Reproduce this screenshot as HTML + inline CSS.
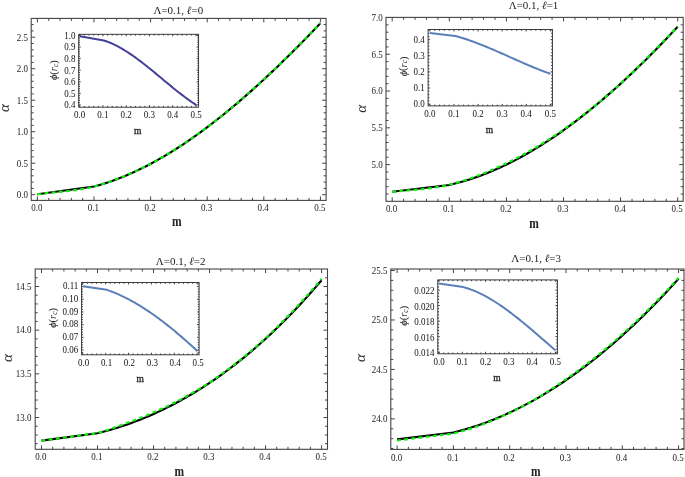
<!DOCTYPE html><html><head><meta charset="utf-8"><style>html,body{margin:0;padding:0;background:#fff;overflow:hidden}svg{display:block;will-change:transform}</style></head><body><svg width="685" height="477" viewBox="0 0 685 477">
<rect width="685" height="477" fill="#fff"/>
<path d="M37.40,200.40v-4M37.40,18.40v4M48.72,200.40v-2.5M48.72,18.40v2.5M60.04,200.40v-2.5M60.04,18.40v2.5M71.36,200.40v-2.5M71.36,18.40v2.5M82.68,200.40v-2.5M82.68,18.40v2.5M94.00,200.40v-4M94.00,18.40v4M105.32,200.40v-2.5M105.32,18.40v2.5M116.64,200.40v-2.5M116.64,18.40v2.5M127.96,200.40v-2.5M127.96,18.40v2.5M139.28,200.40v-2.5M139.28,18.40v2.5M150.60,200.40v-4M150.60,18.40v4M161.92,200.40v-2.5M161.92,18.40v2.5M173.24,200.40v-2.5M173.24,18.40v2.5M184.56,200.40v-2.5M184.56,18.40v2.5M195.88,200.40v-2.5M195.88,18.40v2.5M207.20,200.40v-4M207.20,18.40v4M218.52,200.40v-2.5M218.52,18.40v2.5M229.84,200.40v-2.5M229.84,18.40v2.5M241.16,200.40v-2.5M241.16,18.40v2.5M252.48,200.40v-2.5M252.48,18.40v2.5M263.80,200.40v-4M263.80,18.40v4M275.12,200.40v-2.5M275.12,18.40v2.5M286.44,200.40v-2.5M286.44,18.40v2.5M297.76,200.40v-2.5M297.76,18.40v2.5M309.08,200.40v-2.5M309.08,18.40v2.5M320.40,200.40v-4M320.40,18.40v4M31.20,194.70h4M326.10,194.70h-4M31.20,188.40h2.5M326.10,188.40h-2.5M31.20,182.10h2.5M326.10,182.10h-2.5M31.20,175.80h2.5M326.10,175.80h-2.5M31.20,169.50h2.5M326.10,169.50h-2.5M31.20,163.20h4M326.10,163.20h-4M31.20,156.90h2.5M326.10,156.90h-2.5M31.20,150.60h2.5M326.10,150.60h-2.5M31.20,144.30h2.5M326.10,144.30h-2.5M31.20,138.00h2.5M326.10,138.00h-2.5M31.20,131.70h4M326.10,131.70h-4M31.20,125.40h2.5M326.10,125.40h-2.5M31.20,119.10h2.5M326.10,119.10h-2.5M31.20,112.80h2.5M326.10,112.80h-2.5M31.20,106.50h2.5M326.10,106.50h-2.5M31.20,100.20h4M326.10,100.20h-4M31.20,93.90h2.5M326.10,93.90h-2.5M31.20,87.60h2.5M326.10,87.60h-2.5M31.20,81.30h2.5M326.10,81.30h-2.5M31.20,75.00h2.5M326.10,75.00h-2.5M31.20,68.70h4M326.10,68.70h-4M31.20,62.40h2.5M326.10,62.40h-2.5M31.20,56.10h2.5M326.10,56.10h-2.5M31.20,49.80h2.5M326.10,49.80h-2.5M31.20,43.50h2.5M326.10,43.50h-2.5M31.20,37.20h4M326.10,37.20h-4M31.20,30.90h2.5M326.10,30.90h-2.5M31.20,24.60h2.5M326.10,24.60h-2.5" stroke="#444" stroke-width="1" fill="none"/>
<rect x="31.2" y="18.4" width="294.90" height="182.00" fill="none" stroke="#444" stroke-width="1.1"/>
<g font-family="Liberation Serif" font-size="9" fill="#1a1a1a"><text transform="translate(36.80,211) scale(1,1.15)" text-anchor="middle">0.0</text><text transform="translate(93.40,211) scale(1,1.15)" text-anchor="middle">0.1</text><text transform="translate(150.00,211) scale(1,1.15)" text-anchor="middle">0.2</text><text transform="translate(206.60,211) scale(1,1.15)" text-anchor="middle">0.3</text><text transform="translate(263.20,211) scale(1,1.15)" text-anchor="middle">0.4</text><text transform="translate(319.80,211) scale(1,1.15)" text-anchor="middle">0.5</text><text transform="translate(28.00,198.00) scale(1,1.15)" text-anchor="end">0.0</text><text transform="translate(28.00,166.50) scale(1,1.15)" text-anchor="end">0.5</text><text transform="translate(28.00,135.00) scale(1,1.15)" text-anchor="end">1.0</text><text transform="translate(28.00,103.50) scale(1,1.15)" text-anchor="end">1.5</text><text transform="translate(28.00,72.00) scale(1,1.15)" text-anchor="end">2.0</text><text transform="translate(28.00,40.50) scale(1,1.15)" text-anchor="end">2.5</text></g>
<path d="M392.20,201.30v-4M392.20,17.40v4M403.62,201.30v-2.5M403.62,17.40v2.5M415.04,201.30v-2.5M415.04,17.40v2.5M426.46,201.30v-2.5M426.46,17.40v2.5M437.88,201.30v-2.5M437.88,17.40v2.5M449.30,201.30v-4M449.30,17.40v4M460.72,201.30v-2.5M460.72,17.40v2.5M472.14,201.30v-2.5M472.14,17.40v2.5M483.56,201.30v-2.5M483.56,17.40v2.5M494.98,201.30v-2.5M494.98,17.40v2.5M506.40,201.30v-4M506.40,17.40v4M517.82,201.30v-2.5M517.82,17.40v2.5M529.24,201.30v-2.5M529.24,17.40v2.5M540.66,201.30v-2.5M540.66,17.40v2.5M552.08,201.30v-2.5M552.08,17.40v2.5M563.50,201.30v-4M563.50,17.40v4M574.92,201.30v-2.5M574.92,17.40v2.5M586.34,201.30v-2.5M586.34,17.40v2.5M597.76,201.30v-2.5M597.76,17.40v2.5M609.18,201.30v-2.5M609.18,17.40v2.5M620.60,201.30v-4M620.60,17.40v4M632.02,201.30v-2.5M632.02,17.40v2.5M643.44,201.30v-2.5M643.44,17.40v2.5M654.86,201.30v-2.5M654.86,17.40v2.5M666.28,201.30v-2.5M666.28,17.40v2.5M677.70,201.30v-4M677.70,17.40v4M386.00,194.02h2.5M683.20,194.02h-2.5M386.00,186.66h2.5M683.20,186.66h-2.5M386.00,179.31h2.5M683.20,179.31h-2.5M386.00,171.95h2.5M683.20,171.95h-2.5M386.00,164.60h4M683.20,164.60h-4M386.00,157.25h2.5M683.20,157.25h-2.5M386.00,149.89h2.5M683.20,149.89h-2.5M386.00,142.54h2.5M683.20,142.54h-2.5M386.00,135.18h2.5M683.20,135.18h-2.5M386.00,127.82h4M683.20,127.82h-4M386.00,120.47h2.5M683.20,120.47h-2.5M386.00,113.11h2.5M683.20,113.11h-2.5M386.00,105.76h2.5M683.20,105.76h-2.5M386.00,98.40h2.5M683.20,98.40h-2.5M386.00,91.05h4M683.20,91.05h-4M386.00,83.70h2.5M683.20,83.70h-2.5M386.00,76.34h2.5M683.20,76.34h-2.5M386.00,68.99h2.5M683.20,68.99h-2.5M386.00,61.63h2.5M683.20,61.63h-2.5M386.00,54.27h4M683.20,54.27h-4M386.00,46.92h2.5M683.20,46.92h-2.5M386.00,39.56h2.5M683.20,39.56h-2.5M386.00,32.21h2.5M683.20,32.21h-2.5M386.00,24.85h2.5M683.20,24.85h-2.5" stroke="#444" stroke-width="1" fill="none"/>
<rect x="386" y="17.4" width="297.20" height="183.90" fill="none" stroke="#444" stroke-width="1.1"/>
<g font-family="Liberation Serif" font-size="9" fill="#1a1a1a"><text transform="translate(391.60,212) scale(1,1.15)" text-anchor="middle">0.0</text><text transform="translate(448.70,212) scale(1,1.15)" text-anchor="middle">0.1</text><text transform="translate(505.80,212) scale(1,1.15)" text-anchor="middle">0.2</text><text transform="translate(562.90,212) scale(1,1.15)" text-anchor="middle">0.3</text><text transform="translate(620.00,212) scale(1,1.15)" text-anchor="middle">0.4</text><text transform="translate(677.10,212) scale(1,1.15)" text-anchor="middle">0.5</text><text transform="translate(382.80,167.90) scale(1,1.15)" text-anchor="end">5.0</text><text transform="translate(382.80,131.12) scale(1,1.15)" text-anchor="end">5.5</text><text transform="translate(382.80,94.35) scale(1,1.15)" text-anchor="end">6.0</text><text transform="translate(382.80,57.57) scale(1,1.15)" text-anchor="end">6.5</text><text transform="translate(382.80,20.80) scale(1,1.15)" text-anchor="end">7.0</text></g>
<path d="M41.50,449.30v-4M41.50,269.00v4M52.70,449.30v-2.5M52.70,269.00v2.5M63.91,449.30v-2.5M63.91,269.00v2.5M75.11,449.30v-2.5M75.11,269.00v2.5M86.32,449.30v-2.5M86.32,269.00v2.5M97.52,449.30v-4M97.52,269.00v4M108.72,449.30v-2.5M108.72,269.00v2.5M119.93,449.30v-2.5M119.93,269.00v2.5M131.13,449.30v-2.5M131.13,269.00v2.5M142.34,449.30v-2.5M142.34,269.00v2.5M153.54,449.30v-4M153.54,269.00v4M164.74,449.30v-2.5M164.74,269.00v2.5M175.95,449.30v-2.5M175.95,269.00v2.5M187.15,449.30v-2.5M187.15,269.00v2.5M198.36,449.30v-2.5M198.36,269.00v2.5M209.56,449.30v-4M209.56,269.00v4M220.76,449.30v-2.5M220.76,269.00v2.5M231.97,449.30v-2.5M231.97,269.00v2.5M243.17,449.30v-2.5M243.17,269.00v2.5M254.38,449.30v-2.5M254.38,269.00v2.5M265.58,449.30v-4M265.58,269.00v4M276.78,449.30v-2.5M276.78,269.00v2.5M287.99,449.30v-2.5M287.99,269.00v2.5M299.19,449.30v-2.5M299.19,269.00v2.5M310.40,449.30v-2.5M310.40,269.00v2.5M321.60,449.30v-4M321.60,269.00v4M35.20,443.69h2.5M327.50,443.69h-2.5M35.20,434.96h2.5M327.50,434.96h-2.5M35.20,426.23h2.5M327.50,426.23h-2.5M35.20,417.50h4M327.50,417.50h-4M35.20,408.76h2.5M327.50,408.76h-2.5M35.20,400.03h2.5M327.50,400.03h-2.5M35.20,391.30h2.5M327.50,391.30h-2.5M35.20,382.56h2.5M327.50,382.56h-2.5M35.20,373.83h4M327.50,373.83h-4M35.20,365.10h2.5M327.50,365.10h-2.5M35.20,356.36h2.5M327.50,356.36h-2.5M35.20,347.63h2.5M327.50,347.63h-2.5M35.20,338.90h2.5M327.50,338.90h-2.5M35.20,330.17h4M327.50,330.17h-4M35.20,321.43h2.5M327.50,321.43h-2.5M35.20,312.70h2.5M327.50,312.70h-2.5M35.20,303.97h2.5M327.50,303.97h-2.5M35.20,295.23h2.5M327.50,295.23h-2.5M35.20,286.50h4M327.50,286.50h-4M35.20,277.77h2.5M327.50,277.77h-2.5" stroke="#444" stroke-width="1" fill="none"/>
<rect x="35.2" y="269" width="292.30" height="180.30" fill="none" stroke="#444" stroke-width="1.1"/>
<g font-family="Liberation Serif" font-size="9" fill="#1a1a1a"><text transform="translate(40.90,460.3) scale(1,1.15)" text-anchor="middle">0.0</text><text transform="translate(96.92,460.3) scale(1,1.15)" text-anchor="middle">0.1</text><text transform="translate(152.94,460.3) scale(1,1.15)" text-anchor="middle">0.2</text><text transform="translate(208.96,460.3) scale(1,1.15)" text-anchor="middle">0.3</text><text transform="translate(264.98,460.3) scale(1,1.15)" text-anchor="middle">0.4</text><text transform="translate(321.00,460.3) scale(1,1.15)" text-anchor="middle">0.5</text><text transform="translate(31.40,420.80) scale(1,1.15)" text-anchor="end">13.0</text><text transform="translate(31.40,377.13) scale(1,1.15)" text-anchor="end">13.5</text><text transform="translate(31.40,333.47) scale(1,1.15)" text-anchor="end">14.0</text><text transform="translate(31.40,289.80) scale(1,1.15)" text-anchor="end">14.5</text></g>
<path d="M397.10,449.40v-4M397.10,269.00v4M408.36,449.40v-2.5M408.36,269.00v2.5M419.62,449.40v-2.5M419.62,269.00v2.5M430.88,449.40v-2.5M430.88,269.00v2.5M442.14,449.40v-2.5M442.14,269.00v2.5M453.40,449.40v-4M453.40,269.00v4M464.66,449.40v-2.5M464.66,269.00v2.5M475.92,449.40v-2.5M475.92,269.00v2.5M487.18,449.40v-2.5M487.18,269.00v2.5M498.44,449.40v-2.5M498.44,269.00v2.5M509.70,449.40v-4M509.70,269.00v4M520.96,449.40v-2.5M520.96,269.00v2.5M532.22,449.40v-2.5M532.22,269.00v2.5M543.48,449.40v-2.5M543.48,269.00v2.5M554.74,449.40v-2.5M554.74,269.00v2.5M566.00,449.40v-4M566.00,269.00v4M577.26,449.40v-2.5M577.26,269.00v2.5M588.52,449.40v-2.5M588.52,269.00v2.5M599.78,449.40v-2.5M599.78,269.00v2.5M611.04,449.40v-2.5M611.04,269.00v2.5M622.30,449.40v-4M622.30,269.00v4M633.56,449.40v-2.5M633.56,269.00v2.5M644.82,449.40v-2.5M644.82,269.00v2.5M656.08,449.40v-2.5M656.08,269.00v2.5M667.34,449.40v-2.5M667.34,269.00v2.5M678.60,449.40v-4M678.60,269.00v4M390.80,448.57h2.5M684.00,448.57h-2.5M390.80,438.68h2.5M684.00,438.68h-2.5M390.80,428.79h2.5M684.00,428.79h-2.5M390.80,418.89h4M684.00,418.89h-4M390.80,409.00h2.5M684.00,409.00h-2.5M390.80,399.11h2.5M684.00,399.11h-2.5M390.80,389.22h2.5M684.00,389.22h-2.5M390.80,379.32h2.5M684.00,379.32h-2.5M390.80,369.43h4M684.00,369.43h-4M390.80,359.54h2.5M684.00,359.54h-2.5M390.80,349.64h2.5M684.00,349.64h-2.5M390.80,339.75h2.5M684.00,339.75h-2.5M390.80,329.86h2.5M684.00,329.86h-2.5M390.80,319.97h4M684.00,319.97h-4M390.80,310.07h2.5M684.00,310.07h-2.5M390.80,300.18h2.5M684.00,300.18h-2.5M390.80,290.29h2.5M684.00,290.29h-2.5M390.80,280.39h2.5M684.00,280.39h-2.5M390.80,270.50h4M684.00,270.50h-4" stroke="#444" stroke-width="1" fill="none"/>
<rect x="390.8" y="269" width="293.20" height="180.40" fill="none" stroke="#444" stroke-width="1.1"/>
<g font-family="Liberation Serif" font-size="9" fill="#1a1a1a"><text transform="translate(396.50,460.8) scale(1,1.15)" text-anchor="middle">0.0</text><text transform="translate(452.80,460.8) scale(1,1.15)" text-anchor="middle">0.1</text><text transform="translate(509.10,460.8) scale(1,1.15)" text-anchor="middle">0.2</text><text transform="translate(565.40,460.8) scale(1,1.15)" text-anchor="middle">0.3</text><text transform="translate(621.70,460.8) scale(1,1.15)" text-anchor="middle">0.4</text><text transform="translate(678.00,460.8) scale(1,1.15)" text-anchor="middle">0.5</text><text transform="translate(387.60,422.19) scale(1,1.15)" text-anchor="end">24.0</text><text transform="translate(387.60,372.73) scale(1,1.15)" text-anchor="end">24.5</text><text transform="translate(387.60,323.27) scale(1,1.15)" text-anchor="end">25.0</text><text transform="translate(387.60,273.80) scale(1,1.15)" text-anchor="end">25.5</text></g>
<path d="M37.40,194.20 L94.00,186.51 L96.87,185.74 L99.73,184.92 L102.60,184.07 L105.46,183.17 L108.33,182.23 L111.19,181.25 L114.06,180.23 L116.93,179.17 L119.79,178.07 L122.66,176.93 L125.52,175.75 L128.39,174.54 L131.26,173.28 L134.12,171.99 L136.99,170.66 L139.85,169.29 L142.72,167.88 L145.58,166.44 L148.45,164.96 L151.32,163.45 L154.18,161.90 L157.05,160.31 L159.91,158.69 L162.78,157.04 L165.65,155.35 L168.51,153.63 L171.38,151.87 L174.24,150.08 L177.11,148.26 L179.97,146.41 L182.84,144.52 L185.71,142.60 L188.57,140.65 L191.44,138.67 L194.30,136.66 L197.17,134.62 L200.04,132.55 L202.90,130.45 L205.77,128.32 L208.63,126.17 L211.50,123.98 L214.36,121.77 L217.23,119.52 L220.10,117.25 L222.96,114.96 L225.83,112.63 L228.69,110.29 L231.56,107.91 L234.43,105.51 L237.29,103.08 L240.16,100.63 L243.02,98.16 L245.89,95.66 L248.75,93.13 L251.62,90.59 L254.49,88.02 L257.35,85.42 L260.22,82.81 L263.08,80.17 L265.95,77.51 L268.82,74.83 L271.68,72.13 L274.55,69.41 L277.41,66.66 L280.28,63.90 L283.14,61.12 L286.01,58.32 L288.88,55.50 L291.74,52.66 L294.61,49.81 L297.47,46.93 L300.34,44.04 L303.21,41.13 L306.07,38.21 L308.94,35.26 L311.80,32.31 L314.67,29.33 L317.53,26.34 L320.40,23.34" stroke="#000" stroke-width="2.1" fill="none" stroke-linejoin="round"/>
<path d="M37.40,194.20 C56.27,191.63 75.13,191.57 94.00,186.51 C112.87,181.45 131.73,173.71 150.60,163.83 C169.47,153.95 188.33,141.30 207.20,127.25 C226.07,113.20 244.93,96.83 263.80,79.51 C282.67,62.19 301.53,42.06 320.40,23.34" stroke="#0cf00c" stroke-width="2.2" fill="none" stroke-dasharray="3.8 3.4" stroke-linejoin="round"/>
<path d="M392.20,191.81 L449.30,184.97 L452.19,184.30 L455.08,183.59 L457.97,182.84 L460.86,182.05 L463.76,181.23 L466.65,180.36 L469.54,179.45 L472.43,178.51 L475.32,177.52 L478.21,176.50 L481.10,175.44 L483.99,174.34 L486.88,173.21 L489.78,172.03 L492.67,170.83 L495.56,169.58 L498.45,168.30 L501.34,166.98 L504.23,165.62 L507.12,164.23 L510.01,162.80 L512.91,161.34 L515.80,159.84 L518.69,158.31 L521.58,156.74 L524.47,155.14 L527.36,153.51 L530.25,151.83 L533.14,150.13 L536.03,148.39 L538.93,146.62 L541.82,144.82 L544.71,142.98 L547.60,141.11 L550.49,139.21 L553.38,137.27 L556.27,135.30 L559.16,133.30 L562.05,131.27 L564.95,129.21 L567.84,127.12 L570.73,124.99 L573.62,122.84 L576.51,120.65 L579.40,118.44 L582.29,116.19 L585.18,113.91 L588.07,111.61 L590.97,109.27 L593.86,106.91 L596.75,104.52 L599.64,102.10 L602.53,99.65 L605.42,97.17 L608.31,94.66 L611.20,92.13 L614.09,89.57 L616.99,86.98 L619.88,84.36 L622.77,81.72 L625.66,79.05 L628.55,76.35 L631.44,73.63 L634.33,70.88 L637.22,68.11 L640.12,65.31 L643.01,62.48 L645.90,59.63 L648.79,56.76 L651.68,53.86 L654.57,50.94 L657.46,47.99 L660.35,45.02 L663.24,42.02 L666.14,39.00 L669.03,35.96 L671.92,32.89 L674.81,29.80 L677.70,26.69" stroke="#000" stroke-width="2.1" fill="none" stroke-linejoin="round"/>
<path d="M392.20,192.01 C411.23,189.60 430.27,189.56 449.30,184.77 C468.33,179.98 487.37,172.47 506.40,163.28 C525.43,154.09 544.47,142.91 563.50,129.65 C582.53,116.38 601.57,100.86 620.60,83.70 C639.63,66.54 658.67,45.70 677.70,26.69" stroke="#0cf00c" stroke-width="2.2" fill="none" stroke-dasharray="3.8 3.4" stroke-linejoin="round"/>
<path d="M41.50,440.64 L97.52,433.30 L100.36,432.59 L103.19,431.84 L106.03,431.07 L108.87,430.28 L111.70,429.45 L114.54,428.60 L117.38,427.72 L120.21,426.81 L123.05,425.87 L125.88,424.91 L128.72,423.92 L131.56,422.90 L134.39,421.85 L137.23,420.77 L140.07,419.66 L142.90,418.52 L145.74,417.35 L148.58,416.16 L151.41,414.93 L154.25,413.67 L157.09,412.38 L159.92,411.07 L162.76,409.72 L165.59,408.34 L168.43,406.93 L171.27,405.49 L174.10,404.02 L176.94,402.52 L179.78,400.98 L182.61,399.41 L185.45,397.82 L188.29,396.18 L191.12,394.52 L193.96,392.83 L196.80,391.10 L199.63,389.34 L202.47,387.55 L205.31,385.72 L208.14,383.86 L210.98,381.97 L213.81,380.04 L216.65,378.08 L219.49,376.08 L222.32,374.05 L225.16,371.99 L228.00,369.89 L230.83,367.76 L233.67,365.59 L236.51,363.39 L239.34,361.16 L242.18,358.88 L245.02,356.58 L247.85,354.23 L250.69,351.85 L253.53,349.44 L256.36,346.98 L259.20,344.50 L262.03,341.97 L264.87,339.41 L267.71,336.81 L270.54,334.18 L273.38,331.50 L276.22,328.80 L279.05,326.05 L281.89,323.26 L284.73,320.44 L287.56,317.58 L290.40,314.68 L293.24,311.74 L296.07,308.76 L298.91,305.75 L301.74,302.70 L304.58,299.60 L307.42,296.47 L310.25,293.30 L313.09,290.09 L315.93,286.83 L318.76,283.54 L321.60,280.21" stroke="#000" stroke-width="2.1" fill="none" stroke-linejoin="round"/>
<path d="M41.50,440.64 L97.52,433.10 L100.36,432.24 L103.19,431.36 L106.03,430.45 L108.87,429.51 L111.70,428.54 L114.54,427.55 L117.38,426.53 L120.21,425.48 L123.05,424.40 L125.88,423.31 L128.72,422.32 L131.56,421.30 L134.39,420.25 L137.23,419.17 L140.07,418.06 L142.90,416.92 L145.74,415.75 L148.58,414.56 L151.41,413.33 L154.25,412.09 L157.09,410.85 L159.92,409.59 L162.76,408.30 L165.59,406.98 L168.43,405.62 L171.27,404.24 L174.10,402.82 L176.94,401.37 L179.78,399.90 L182.61,398.38 L185.45,396.84 L188.29,395.27 L191.12,393.66 L193.96,392.02 L196.80,390.35 L199.63,388.64 L202.47,386.91 L205.31,385.14 L208.14,383.33 L210.98,381.46 L213.81,379.53 L216.65,377.57 L219.49,375.57 L222.32,373.53 L225.16,371.46 L228.00,369.36 L230.83,367.22 L233.67,365.05 L236.51,362.84 L239.34,360.60 L242.18,358.33 L245.02,356.01 L247.85,353.66 L250.69,351.28 L253.53,348.86 L256.36,346.40 L259.20,343.91 L262.03,341.38 L264.87,338.81 L267.71,336.18 L270.54,333.50 L273.38,330.78 L276.22,328.02 L279.05,325.23 L281.89,322.40 L284.73,319.53 L287.56,316.63 L290.40,313.68 L293.24,310.70 L296.07,307.67 L298.91,304.61 L301.74,301.51 L304.58,298.38 L307.42,295.20 L310.25,291.98 L313.09,288.72 L315.93,285.43 L318.76,282.09 L321.60,278.71" stroke="#0cf00c" stroke-width="2.2" fill="none" stroke-dasharray="3.8 3.4" stroke-linejoin="round"/>
<path d="M397.10,439.37 L453.40,432.45 L456.25,431.75 L459.10,431.01 L461.95,430.24 L464.80,429.44 L467.65,428.61 L470.50,427.75 L473.35,426.85 L476.21,425.92 L479.06,424.96 L481.91,423.96 L484.76,422.94 L487.61,421.88 L490.46,420.79 L493.31,419.66 L496.16,418.51 L499.01,417.32 L501.86,416.10 L504.71,414.84 L507.56,413.56 L510.41,412.24 L513.26,410.89 L516.11,409.51 L518.96,408.10 L521.82,406.65 L524.67,405.18 L527.52,403.67 L530.37,402.13 L533.22,400.55 L536.07,398.95 L538.92,397.31 L541.77,395.64 L544.62,393.94 L547.47,392.21 L550.32,390.45 L553.17,388.65 L556.02,386.83 L558.87,384.97 L561.72,383.08 L564.57,381.15 L567.43,379.20 L570.28,377.22 L573.13,375.20 L575.98,373.15 L578.83,371.07 L581.68,368.96 L584.53,366.82 L587.38,364.65 L590.23,362.44 L593.08,360.21 L595.93,357.94 L598.78,355.64 L601.63,353.31 L604.48,350.95 L607.33,348.56 L610.18,346.13 L613.04,343.68 L615.89,341.19 L618.74,338.68 L621.59,336.13 L624.44,333.55 L627.29,330.94 L630.14,328.30 L632.99,325.63 L635.84,322.93 L638.69,320.20 L641.54,317.43 L644.39,314.64 L647.24,311.81 L650.09,308.96 L652.94,306.07 L655.79,303.15 L658.65,300.20 L661.50,297.22 L664.35,294.22 L667.20,291.18 L670.05,288.11 L672.90,285.00 L675.75,281.87 L678.60,278.71" stroke="#000" stroke-width="2.1" fill="none" stroke-linejoin="round"/>
<path d="M397.10,440.47 L453.40,433.55 L456.25,432.81 L459.10,432.04 L461.95,431.24 L464.80,430.40 L467.65,429.54 L470.50,428.64 L473.35,427.70 L476.21,426.74 L479.06,425.74 L481.91,424.71 L484.76,423.65 L487.61,422.55 L490.46,421.43 L493.31,420.27 L496.16,419.07 L499.01,417.85 L501.86,416.59 L504.71,415.31 L507.56,413.99 L510.41,412.62 L513.26,411.20 L516.11,409.75 L518.96,408.27 L521.82,406.75 L524.67,405.20 L527.52,403.62 L530.37,402.01 L533.22,400.37 L536.07,398.69 L538.92,396.99 L541.77,395.25 L544.62,393.48 L547.47,391.67 L550.32,389.84 L553.17,387.97 L556.02,386.07 L558.87,384.14 L561.72,382.18 L564.57,380.19 L567.43,378.20 L570.28,376.20 L573.13,374.17 L575.98,372.12 L578.83,370.03 L581.68,367.91 L584.53,365.75 L587.38,363.57 L590.23,361.36 L593.08,359.11 L595.93,356.83 L598.78,354.52 L601.63,352.18 L604.48,349.81 L607.33,347.41 L610.18,344.98 L613.04,342.51 L615.89,340.02 L618.74,337.49 L621.59,334.93 L624.44,332.36 L627.29,329.76 L630.14,327.13 L632.99,324.47 L635.84,321.78 L638.69,319.05 L641.54,316.30 L644.39,313.52 L647.24,310.70 L650.09,307.85 L652.94,304.98 L655.79,302.07 L658.65,299.13 L661.50,296.16 L664.35,293.16 L667.20,290.14 L670.05,287.07 L672.90,283.98 L675.75,280.86 L678.60,277.71" stroke="#0cf00c" stroke-width="2.2" fill="none" stroke-dasharray="3.8 3.4" stroke-linejoin="round"/>
<path d="M79.70,107.20v-2M79.70,34.30v2M84.35,107.20v-1.3M84.35,34.30v1.3M89.00,107.20v-1.3M89.00,34.30v1.3M93.66,107.20v-1.3M93.66,34.30v1.3M98.31,107.20v-1.3M98.31,34.30v1.3M102.96,107.20v-2M102.96,34.30v2M107.61,107.20v-1.3M107.61,34.30v1.3M112.26,107.20v-1.3M112.26,34.30v1.3M116.92,107.20v-1.3M116.92,34.30v1.3M121.57,107.20v-1.3M121.57,34.30v1.3M126.22,107.20v-2M126.22,34.30v2M130.87,107.20v-1.3M130.87,34.30v1.3M135.52,107.20v-1.3M135.52,34.30v1.3M140.18,107.20v-1.3M140.18,34.30v1.3M144.83,107.20v-1.3M144.83,34.30v1.3M149.48,107.20v-2M149.48,34.30v2M154.13,107.20v-1.3M154.13,34.30v1.3M158.78,107.20v-1.3M158.78,34.30v1.3M163.44,107.20v-1.3M163.44,34.30v1.3M168.09,107.20v-1.3M168.09,34.30v1.3M172.74,107.20v-2M172.74,34.30v2M177.39,107.20v-1.3M177.39,34.30v1.3M182.04,107.20v-1.3M182.04,34.30v1.3M186.70,107.20v-1.3M186.70,34.30v1.3M191.35,107.20v-1.3M191.35,34.30v1.3M196.00,107.20v-2M196.00,34.30v2M78.70,104.92h2M198.60,104.92h-2M78.70,102.61h1.3M198.60,102.61h-1.3M78.70,100.29h1.3M198.60,100.29h-1.3M78.70,97.98h1.3M198.60,97.98h-1.3M78.70,95.66h1.3M198.60,95.66h-1.3M78.70,93.35h2M198.60,93.35h-2M78.70,91.04h1.3M198.60,91.04h-1.3M78.70,88.72h1.3M198.60,88.72h-1.3M78.70,86.41h1.3M198.60,86.41h-1.3M78.70,84.09h1.3M198.60,84.09h-1.3M78.70,81.78h2M198.60,81.78h-2M78.70,79.47h1.3M198.60,79.47h-1.3M78.70,77.15h1.3M198.60,77.15h-1.3M78.70,74.84h1.3M198.60,74.84h-1.3M78.70,72.52h1.3M198.60,72.52h-1.3M78.70,70.21h2M198.60,70.21h-2M78.70,67.90h1.3M198.60,67.90h-1.3M78.70,65.58h1.3M198.60,65.58h-1.3M78.70,63.27h1.3M198.60,63.27h-1.3M78.70,60.95h1.3M198.60,60.95h-1.3M78.70,58.64h2M198.60,58.64h-2M78.70,56.33h1.3M198.60,56.33h-1.3M78.70,54.01h1.3M198.60,54.01h-1.3M78.70,51.70h1.3M198.60,51.70h-1.3M78.70,49.38h1.3M198.60,49.38h-1.3M78.70,47.07h2M198.60,47.07h-2M78.70,44.76h1.3M198.60,44.76h-1.3M78.70,42.44h1.3M198.60,42.44h-1.3M78.70,40.13h1.3M198.60,40.13h-1.3M78.70,37.81h1.3M198.60,37.81h-1.3M78.70,35.50h2M198.60,35.50h-2" stroke="#2a2a2a" stroke-width="0.9" fill="none"/>
<rect x="78.7" y="34.3" width="119.90" height="72.90" fill="none" stroke="#2a2a2a" stroke-width="0.9"/>
<g font-family="Liberation Serif" font-size="9" fill="#111"><text transform="translate(79.70,117.8) scale(1,1.15)" text-anchor="middle">0.0</text><text transform="translate(102.96,117.8) scale(1,1.15)" text-anchor="middle">0.1</text><text transform="translate(126.22,117.8) scale(1,1.15)" text-anchor="middle">0.2</text><text transform="translate(149.48,117.8) scale(1,1.15)" text-anchor="middle">0.3</text><text transform="translate(172.74,117.8) scale(1,1.15)" text-anchor="middle">0.4</text><text transform="translate(196.00,117.8) scale(1,1.15)" text-anchor="middle">0.5</text><text transform="translate(75.40,108.22) scale(1,1.15)" text-anchor="end">0.4</text><text transform="translate(75.40,96.65) scale(1,1.15)" text-anchor="end">0.5</text><text transform="translate(75.40,85.08) scale(1,1.15)" text-anchor="end">0.6</text><text transform="translate(75.40,73.51) scale(1,1.15)" text-anchor="end">0.7</text><text transform="translate(75.40,61.94) scale(1,1.15)" text-anchor="end">0.8</text><text transform="translate(75.40,50.37) scale(1,1.15)" text-anchor="end">0.9</text><text transform="translate(75.40,38.80) scale(1,1.15)" text-anchor="end">1.0</text></g>
<path d="M429.90,105.90v-2M429.90,29.50v2M434.72,105.90v-1.3M434.72,29.50v1.3M439.53,105.90v-1.3M439.53,29.50v1.3M444.35,105.90v-1.3M444.35,29.50v1.3M449.16,105.90v-1.3M449.16,29.50v1.3M453.98,105.90v-2M453.98,29.50v2M458.80,105.90v-1.3M458.80,29.50v1.3M463.61,105.90v-1.3M463.61,29.50v1.3M468.43,105.90v-1.3M468.43,29.50v1.3M473.24,105.90v-1.3M473.24,29.50v1.3M478.06,105.90v-2M478.06,29.50v2M482.88,105.90v-1.3M482.88,29.50v1.3M487.69,105.90v-1.3M487.69,29.50v1.3M492.51,105.90v-1.3M492.51,29.50v1.3M497.32,105.90v-1.3M497.32,29.50v1.3M502.14,105.90v-2M502.14,29.50v2M506.96,105.90v-1.3M506.96,29.50v1.3M511.77,105.90v-1.3M511.77,29.50v1.3M516.59,105.90v-1.3M516.59,29.50v1.3M521.40,105.90v-1.3M521.40,29.50v1.3M526.22,105.90v-2M526.22,29.50v2M531.04,105.90v-1.3M531.04,29.50v1.3M535.85,105.90v-1.3M535.85,29.50v1.3M540.67,105.90v-1.3M540.67,29.50v1.3M545.48,105.90v-1.3M545.48,29.50v1.3M550.30,105.90v-2M550.30,29.50v2M428.10,104.10h2M552.40,104.10h-2M428.10,100.88h1.3M552.40,100.88h-1.3M428.10,97.66h1.3M552.40,97.66h-1.3M428.10,94.44h1.3M552.40,94.44h-1.3M428.10,91.22h1.3M552.40,91.22h-1.3M428.10,88.00h2M552.40,88.00h-2M428.10,84.78h1.3M552.40,84.78h-1.3M428.10,81.56h1.3M552.40,81.56h-1.3M428.10,78.34h1.3M552.40,78.34h-1.3M428.10,75.12h1.3M552.40,75.12h-1.3M428.10,71.90h2M552.40,71.90h-2M428.10,68.68h1.3M552.40,68.68h-1.3M428.10,65.46h1.3M552.40,65.46h-1.3M428.10,62.24h1.3M552.40,62.24h-1.3M428.10,59.02h1.3M552.40,59.02h-1.3M428.10,55.80h2M552.40,55.80h-2M428.10,52.58h1.3M552.40,52.58h-1.3M428.10,49.36h1.3M552.40,49.36h-1.3M428.10,46.14h1.3M552.40,46.14h-1.3M428.10,42.92h1.3M552.40,42.92h-1.3M428.10,39.70h2M552.40,39.70h-2M428.10,36.48h1.3M552.40,36.48h-1.3M428.10,33.26h1.3M552.40,33.26h-1.3M428.10,30.04h1.3M552.40,30.04h-1.3" stroke="#2a2a2a" stroke-width="0.9" fill="none"/>
<rect x="428.1" y="29.5" width="124.30" height="76.40" fill="none" stroke="#2a2a2a" stroke-width="0.9"/>
<g font-family="Liberation Serif" font-size="9" fill="#111"><text transform="translate(429.90,117) scale(1,1.15)" text-anchor="middle">0.0</text><text transform="translate(453.98,117) scale(1,1.15)" text-anchor="middle">0.1</text><text transform="translate(478.06,117) scale(1,1.15)" text-anchor="middle">0.2</text><text transform="translate(502.14,117) scale(1,1.15)" text-anchor="middle">0.3</text><text transform="translate(526.22,117) scale(1,1.15)" text-anchor="middle">0.4</text><text transform="translate(550.30,117) scale(1,1.15)" text-anchor="middle">0.5</text><text transform="translate(424.80,107.40) scale(1,1.15)" text-anchor="end">0.0</text><text transform="translate(424.80,91.30) scale(1,1.15)" text-anchor="end">0.1</text><text transform="translate(424.80,75.20) scale(1,1.15)" text-anchor="end">0.2</text><text transform="translate(424.80,59.10) scale(1,1.15)" text-anchor="end">0.3</text><text transform="translate(424.80,43.00) scale(1,1.15)" text-anchor="end">0.4</text></g>
<path d="M82.80,354.80v-2M82.80,282.50v2M87.38,354.80v-1.3M87.38,282.50v1.3M91.95,354.80v-1.3M91.95,282.50v1.3M96.53,354.80v-1.3M96.53,282.50v1.3M101.10,354.80v-1.3M101.10,282.50v1.3M105.68,354.80v-2M105.68,282.50v2M110.26,354.80v-1.3M110.26,282.50v1.3M114.83,354.80v-1.3M114.83,282.50v1.3M119.41,354.80v-1.3M119.41,282.50v1.3M123.98,354.80v-1.3M123.98,282.50v1.3M128.56,354.80v-2M128.56,282.50v2M133.14,354.80v-1.3M133.14,282.50v1.3M137.71,354.80v-1.3M137.71,282.50v1.3M142.29,354.80v-1.3M142.29,282.50v1.3M146.86,354.80v-1.3M146.86,282.50v1.3M151.44,354.80v-2M151.44,282.50v2M156.02,354.80v-1.3M156.02,282.50v1.3M160.59,354.80v-1.3M160.59,282.50v1.3M165.17,354.80v-1.3M165.17,282.50v1.3M169.74,354.80v-1.3M169.74,282.50v1.3M174.32,354.80v-2M174.32,282.50v2M178.90,354.80v-1.3M178.90,282.50v1.3M183.47,354.80v-1.3M183.47,282.50v1.3M188.05,354.80v-1.3M188.05,282.50v1.3M192.62,354.80v-1.3M192.62,282.50v1.3M197.20,354.80v-2M197.20,282.50v2M81.60,352.54h1.3M199.10,352.54h-1.3M81.60,350.00h2M199.10,350.00h-2M81.60,347.46h1.3M199.10,347.46h-1.3M81.60,344.93h1.3M199.10,344.93h-1.3M81.60,342.39h1.3M199.10,342.39h-1.3M81.60,339.86h1.3M199.10,339.86h-1.3M81.60,337.32h2M199.10,337.32h-2M81.60,334.78h1.3M199.10,334.78h-1.3M81.60,332.25h1.3M199.10,332.25h-1.3M81.60,329.71h1.3M199.10,329.71h-1.3M81.60,327.18h1.3M199.10,327.18h-1.3M81.60,324.64h2M199.10,324.64h-2M81.60,322.10h1.3M199.10,322.10h-1.3M81.60,319.57h1.3M199.10,319.57h-1.3M81.60,317.03h1.3M199.10,317.03h-1.3M81.60,314.50h1.3M199.10,314.50h-1.3M81.60,311.96h2M199.10,311.96h-2M81.60,309.42h1.3M199.10,309.42h-1.3M81.60,306.89h1.3M199.10,306.89h-1.3M81.60,304.35h1.3M199.10,304.35h-1.3M81.60,301.82h1.3M199.10,301.82h-1.3M81.60,299.28h2M199.10,299.28h-2M81.60,296.74h1.3M199.10,296.74h-1.3M81.60,294.21h1.3M199.10,294.21h-1.3M81.60,291.67h1.3M199.10,291.67h-1.3M81.60,289.14h1.3M199.10,289.14h-1.3M81.60,286.60h2M199.10,286.60h-2M81.60,284.06h1.3M199.10,284.06h-1.3" stroke="#2a2a2a" stroke-width="0.9" fill="none"/>
<rect x="81.6" y="282.5" width="117.50" height="72.30" fill="none" stroke="#2a2a2a" stroke-width="0.9"/>
<g font-family="Liberation Serif" font-size="9" fill="#111"><text transform="translate(83.70,365.6) scale(1,1.15)" text-anchor="middle">0.0</text><text transform="translate(106.58,365.6) scale(1,1.15)" text-anchor="middle">0.1</text><text transform="translate(129.46,365.6) scale(1,1.15)" text-anchor="middle">0.2</text><text transform="translate(152.34,365.6) scale(1,1.15)" text-anchor="middle">0.3</text><text transform="translate(175.22,365.6) scale(1,1.15)" text-anchor="middle">0.4</text><text transform="translate(198.10,365.6) scale(1,1.15)" text-anchor="middle">0.5</text><text transform="translate(78.30,352.60) scale(1,1.15)" text-anchor="end">0.06</text><text transform="translate(78.30,339.92) scale(1,1.15)" text-anchor="end">0.07</text><text transform="translate(78.30,327.24) scale(1,1.15)" text-anchor="end">0.08</text><text transform="translate(78.30,314.56) scale(1,1.15)" text-anchor="end">0.09</text><text transform="translate(78.30,301.88) scale(1,1.15)" text-anchor="end">0.10</text><text transform="translate(78.30,289.20) scale(1,1.15)" text-anchor="end">0.11</text></g>
<path d="M439.00,353.80v-2M439.00,279.90v2M443.66,353.80v-1.3M443.66,279.90v1.3M448.31,353.80v-1.3M448.31,279.90v1.3M452.97,353.80v-1.3M452.97,279.90v1.3M457.62,353.80v-1.3M457.62,279.90v1.3M462.28,353.80v-2M462.28,279.90v2M466.94,353.80v-1.3M466.94,279.90v1.3M471.59,353.80v-1.3M471.59,279.90v1.3M476.25,353.80v-1.3M476.25,279.90v1.3M480.90,353.80v-1.3M480.90,279.90v1.3M485.56,353.80v-2M485.56,279.90v2M490.22,353.80v-1.3M490.22,279.90v1.3M494.87,353.80v-1.3M494.87,279.90v1.3M499.53,353.80v-1.3M499.53,279.90v1.3M504.18,353.80v-1.3M504.18,279.90v1.3M508.84,353.80v-2M508.84,279.90v2M513.50,353.80v-1.3M513.50,279.90v1.3M518.15,353.80v-1.3M518.15,279.90v1.3M522.81,353.80v-1.3M522.81,279.90v1.3M527.46,353.80v-1.3M527.46,279.90v1.3M532.12,353.80v-2M532.12,279.90v2M536.78,353.80v-1.3M536.78,279.90v1.3M541.43,353.80v-1.3M541.43,279.90v1.3M546.09,353.80v-1.3M546.09,279.90v1.3M550.74,353.80v-1.3M550.74,279.90v1.3M555.40,353.80v-2M555.40,279.90v2M437.80,352.20h2M557.40,352.20h-2M437.80,349.09h1.3M557.40,349.09h-1.3M437.80,345.99h1.3M557.40,345.99h-1.3M437.80,342.88h1.3M557.40,342.88h-1.3M437.80,339.78h1.3M557.40,339.78h-1.3M437.80,336.67h2M557.40,336.67h-2M437.80,333.57h1.3M557.40,333.57h-1.3M437.80,330.46h1.3M557.40,330.46h-1.3M437.80,327.36h1.3M557.40,327.36h-1.3M437.80,324.25h1.3M557.40,324.25h-1.3M437.80,321.15h2M557.40,321.15h-2M437.80,318.04h1.3M557.40,318.04h-1.3M437.80,314.94h1.3M557.40,314.94h-1.3M437.80,311.83h1.3M557.40,311.83h-1.3M437.80,308.73h1.3M557.40,308.73h-1.3M437.80,305.62h2M557.40,305.62h-2M437.80,302.52h1.3M557.40,302.52h-1.3M437.80,299.41h1.3M557.40,299.41h-1.3M437.80,296.31h1.3M557.40,296.31h-1.3M437.80,293.20h1.3M557.40,293.20h-1.3M437.80,290.10h2M557.40,290.10h-2M437.80,287.00h1.3M557.40,287.00h-1.3M437.80,283.89h1.3M557.40,283.89h-1.3M437.80,280.79h1.3M557.40,280.79h-1.3" stroke="#2a2a2a" stroke-width="0.9" fill="none"/>
<rect x="437.8" y="279.9" width="119.60" height="73.90" fill="none" stroke="#2a2a2a" stroke-width="0.9"/>
<g font-family="Liberation Serif" font-size="9" fill="#111"><text transform="translate(439.00,365) scale(1,1.15)" text-anchor="middle">0.0</text><text transform="translate(462.28,365) scale(1,1.15)" text-anchor="middle">0.1</text><text transform="translate(485.56,365) scale(1,1.15)" text-anchor="middle">0.2</text><text transform="translate(508.84,365) scale(1,1.15)" text-anchor="middle">0.3</text><text transform="translate(532.12,365) scale(1,1.15)" text-anchor="middle">0.4</text><text transform="translate(555.40,365) scale(1,1.15)" text-anchor="middle">0.5</text><text transform="translate(434.50,356.10) scale(1,1.15)" text-anchor="end">0.014</text><text transform="translate(434.50,340.57) scale(1,1.15)" text-anchor="end">0.016</text><text transform="translate(434.50,325.05) scale(1,1.15)" text-anchor="end">0.018</text><text transform="translate(434.50,309.52) scale(1,1.15)" text-anchor="end">0.020</text><text transform="translate(434.50,294.00) scale(1,1.15)" text-anchor="end">0.022</text></g>
<path d="M79.80,36.20 L103.80,40.50 L105.37,41.00 L106.94,41.54 L108.51,42.13 L110.08,42.75 L111.65,43.42 L113.22,44.12 L114.79,44.87 L116.36,45.65 L117.93,46.46 L119.49,47.31 L121.06,48.19 L122.63,49.10 L124.20,50.05 L125.77,51.02 L127.34,52.02 L128.91,53.04 L130.48,54.10 L132.05,55.17 L133.62,56.27 L135.19,57.39 L136.76,58.53 L138.33,59.69 L139.90,60.87 L141.47,62.07 L143.04,63.28 L144.61,64.51 L146.18,65.74 L147.75,67.00 L149.32,68.26 L150.88,69.53 L152.45,70.81 L154.02,72.10 L155.59,73.39 L157.16,74.69 L158.73,75.99 L160.30,77.29 L161.87,78.60 L163.44,79.90 L165.01,81.20 L166.58,82.50 L168.15,83.80 L169.72,85.09 L171.29,86.38 L172.86,87.66 L174.43,88.92 L176.00,90.18 L177.57,91.43 L179.14,92.67 L180.71,93.89 L182.27,95.10 L183.84,96.29 L185.41,97.46 L186.98,98.62 L188.55,99.76 L190.12,100.87 L191.69,101.96 L193.26,103.03 L194.83,104.08 L196.40,105.10" stroke="#44409a" stroke-width="2" fill="none" stroke-linejoin="round"/>
<path d="M429.90,33.00 L455.00,35.90 L456.62,36.33 L458.23,36.78 L459.85,37.25 L461.47,37.74 L463.08,38.23 L464.70,38.75 L466.32,39.28 L467.94,39.82 L469.55,40.37 L471.17,40.94 L472.79,41.52 L474.40,42.11 L476.02,42.72 L477.64,43.33 L479.25,43.95 L480.87,44.59 L482.49,45.23 L484.11,45.88 L485.72,46.54 L487.34,47.21 L488.96,47.89 L490.57,48.57 L492.19,49.26 L493.81,49.95 L495.42,50.65 L497.04,51.35 L498.66,52.06 L500.27,52.77 L501.89,53.49 L503.51,54.20 L505.13,54.92 L506.74,55.64 L508.36,56.36 L509.98,57.08 L511.59,57.81 L513.21,58.53 L514.83,59.25 L516.44,59.97 L518.06,60.68 L519.68,61.40 L521.29,62.11 L522.91,62.82 L524.53,63.52 L526.15,64.22 L527.76,64.91 L529.38,65.60 L531.00,66.28 L532.61,66.96 L534.23,67.63 L535.85,68.29 L537.46,68.94 L539.08,69.58 L540.70,70.22 L542.32,70.84 L543.93,71.46 L545.55,72.06 L547.17,72.65 L548.78,73.23 L550.40,73.80" stroke="#5b7fb9" stroke-width="2" fill="none" stroke-linejoin="round"/>
<path d="M82.90,286.20 L106.70,289.80 L108.24,290.33 L109.78,290.88 L111.32,291.45 L112.86,292.04 L114.39,292.65 L115.93,293.29 L117.47,293.95 L119.01,294.62 L120.55,295.32 L122.09,296.04 L123.63,296.78 L125.17,297.53 L126.71,298.31 L128.25,299.11 L129.78,299.92 L131.32,300.76 L132.86,301.61 L134.40,302.48 L135.94,303.37 L137.48,304.28 L139.02,305.21 L140.56,306.15 L142.10,307.11 L143.64,308.09 L145.17,309.08 L146.71,310.09 L148.25,311.12 L149.79,312.16 L151.33,313.22 L152.87,314.30 L154.41,315.39 L155.95,316.49 L157.49,317.61 L159.03,318.75 L160.56,319.89 L162.10,321.06 L163.64,322.24 L165.18,323.43 L166.72,324.63 L168.26,325.85 L169.80,327.08 L171.34,328.32 L172.88,329.58 L174.42,330.85 L175.95,332.13 L177.49,333.42 L179.03,334.73 L180.57,336.04 L182.11,337.37 L183.65,338.71 L185.19,340.05 L186.73,341.41 L188.27,342.78 L189.81,344.16 L191.34,345.55 L192.88,346.95 L194.42,348.36 L195.96,349.77 L197.50,351.20" stroke="#5b7fb9" stroke-width="2" fill="none" stroke-linejoin="round"/>
<path d="M439.10,283.40 L463.20,287.10 L464.76,287.53 L466.33,287.99 L467.89,288.48 L469.46,289.01 L471.02,289.57 L472.59,290.17 L474.15,290.79 L475.72,291.45 L477.28,292.13 L478.84,292.85 L480.41,293.59 L481.97,294.36 L483.54,295.16 L485.10,295.99 L486.67,296.84 L488.23,297.72 L489.79,298.63 L491.36,299.55 L492.92,300.51 L494.49,301.48 L496.05,302.48 L497.62,303.49 L499.18,304.53 L500.75,305.59 L502.31,306.67 L503.87,307.77 L505.44,308.89 L507.00,310.02 L508.57,311.17 L510.13,312.34 L511.70,313.52 L513.26,314.72 L514.83,315.93 L516.39,317.16 L517.95,318.40 L519.52,319.65 L521.08,320.92 L522.65,322.19 L524.21,323.48 L525.78,324.77 L527.34,326.08 L528.91,327.39 L530.47,328.71 L532.03,330.04 L533.60,331.38 L535.16,332.72 L536.73,334.07 L538.29,335.42 L539.86,336.77 L541.42,338.13 L542.98,339.49 L544.55,340.86 L546.11,342.22 L547.68,343.59 L549.24,344.95 L550.81,346.32 L552.37,347.68 L553.94,349.04 L555.50,350.40" stroke="#5b7fb9" stroke-width="2" fill="none" stroke-linejoin="round"/>
<text x="178.3" y="14.0" font-family="Liberation Serif" font-size="11" fill="#222" text-anchor="middle">Λ=0.1, <tspan font-style="italic">ℓ</tspan>=0</text>
<text x="533.5" y="8.6" font-family="Liberation Serif" font-size="11" fill="#222" text-anchor="middle">Λ=0.1, <tspan font-style="italic">ℓ</tspan>=1</text>
<text x="180.6" y="265" font-family="Liberation Serif" font-size="11" fill="#222" text-anchor="middle">Λ=0.1, <tspan font-style="italic">ℓ</tspan>=2</text>
<text x="536.2" y="262.2" font-family="Liberation Serif" font-size="11" fill="#222" text-anchor="middle">Λ=0.1, <tspan font-style="italic">ℓ</tspan>=3</text>
<text transform="translate(3.5,108) rotate(-90)" font-family="Liberation Serif" font-size="15" font-style="italic" fill="#2a2a2a" stroke="#2a2a2a" stroke-width="0.05" text-anchor="middle" dominant-baseline="central">α</text>
<text transform="translate(361,108.9) rotate(-90)" font-family="Liberation Serif" font-size="15" font-style="italic" fill="#2a2a2a" stroke="#2a2a2a" stroke-width="0.05" text-anchor="middle" dominant-baseline="central">α</text>
<text transform="translate(6.9,358.1) rotate(-90)" font-family="Liberation Serif" font-size="15" font-style="italic" fill="#2a2a2a" stroke="#2a2a2a" stroke-width="0.05" text-anchor="middle" dominant-baseline="central">α</text>
<text transform="translate(360,358) rotate(-90)" font-family="Liberation Serif" font-size="15" font-style="italic" fill="#2a2a2a" stroke="#2a2a2a" stroke-width="0.05" text-anchor="middle" dominant-baseline="central">α</text>
<text transform="translate(176.9,226.0) scale(1,1.22)" font-family="Liberation Serif" font-size="11.5" font-weight="bold" fill="#222" text-anchor="middle">m</text>
<text transform="translate(534.1,228.4) scale(1,1.22)" font-family="Liberation Serif" font-size="11.5" font-weight="bold" fill="#222" text-anchor="middle">m</text>
<text transform="translate(179.4,476) scale(1,1.22)" font-family="Liberation Serif" font-size="11.5" font-weight="bold" fill="#222" text-anchor="middle">m</text>
<text transform="translate(535.9,476) scale(1,1.22)" font-family="Liberation Serif" font-size="11.5" font-weight="bold" fill="#222" text-anchor="middle">m</text>
<text transform="translate(137.8,134.3) scale(1,1.15)" font-family="Liberation Serif" font-size="9.5" stroke="#222" stroke-width="0.3" fill="#222" text-anchor="middle">m</text>
<text transform="translate(489.4,133.4) scale(1,1.15)" font-family="Liberation Serif" font-size="9.5" stroke="#222" stroke-width="0.3" fill="#222" text-anchor="middle">m</text>
<text transform="translate(140.2,382.4) scale(1,1.15)" font-family="Liberation Serif" font-size="9.5" stroke="#222" stroke-width="0.3" fill="#222" text-anchor="middle">m</text>
<text transform="translate(496.9,381.1) scale(1,1.15)" font-family="Liberation Serif" font-size="9.5" stroke="#222" stroke-width="0.3" fill="#222" text-anchor="middle">m</text>
<text transform="translate(53.4,70.15) rotate(-90)" font-family="Liberation Serif" font-size="10.5" fill="#2a2a2a" text-anchor="middle" dominant-baseline="central"><tspan font-style="italic" stroke="#2a2a2a" stroke-width="0.15">ϕ</tspan>(<tspan font-style="italic">r</tspan><tspan font-style="italic" font-size="7.5" dy="1.5">c</tspan><tspan dy="-1.5">)</tspan></text>
<text transform="translate(402.7,66.4) rotate(-90)" font-family="Liberation Serif" font-size="10.5" fill="#2a2a2a" text-anchor="middle" dominant-baseline="central"><tspan font-style="italic" stroke="#2a2a2a" stroke-width="0.15">ϕ</tspan>(<tspan font-style="italic">r</tspan><tspan font-style="italic" font-size="7.5" dy="1.5">c</tspan><tspan dy="-1.5">)</tspan></text>
<text transform="translate(52.4,317.9) rotate(-90)" font-family="Liberation Serif" font-size="10.5" fill="#2a2a2a" text-anchor="middle" dominant-baseline="central"><tspan font-style="italic" stroke="#2a2a2a" stroke-width="0.15">ϕ</tspan>(<tspan font-style="italic">r</tspan><tspan font-style="italic" font-size="7.5" dy="1.5">c</tspan><tspan dy="-1.5">)</tspan></text>
<text transform="translate(403.1,315.8) rotate(-90)" font-family="Liberation Serif" font-size="10.5" fill="#2a2a2a" text-anchor="middle" dominant-baseline="central"><tspan font-style="italic" stroke="#2a2a2a" stroke-width="0.15">ϕ</tspan>(<tspan font-style="italic">r</tspan><tspan font-style="italic" font-size="7.5" dy="1.5">c</tspan><tspan dy="-1.5">)</tspan></text>
</svg></body></html>
